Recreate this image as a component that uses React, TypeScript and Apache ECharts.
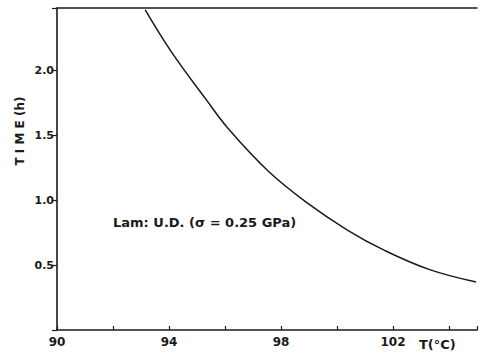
import React, { useEffect, useRef } from "react";
import * as echarts from "echarts";

const temperatures = [93.15, 94.11, 95.31, 96.12, 97.54, 98.96, 100.37, 101.68, 103.31, 104.97];
const times = [2.465, 2.134, 1.78, 1.55, 1.225, 0.975, 0.77, 0.615, 0.465, 0.37];
const xLabelsShown = [90, 94, 98, 102];
const yLabelsShown = [0.5, 1.0, 1.5, 2.0];
const annotation = "Lam: U.D. (σ = 0.25 GPa)";
const yTitle = "T I M E (h)";
const xTitle = "T(°C)";

export default function App() {
  const ref = useRef<HTMLDivElement>(null);
  useEffect(() => {
    if (!ref.current) return;
    const chart = echarts.init(ref.current, null, { renderer: "svg" });
    const font = "DejaVu Sans";
    const ink = "#1a1a1a";
    chart.setOption({
      animation: false,
      backgroundColor: "#ffffff",
      grid: { left: 57, right: 0, top: 8, bottom: 27 },
      xAxis: [
        {
          type: "value",
          min: 90,
          max: 105,
          interval: 2,
          axisLine: { lineStyle: { color: ink, width: 1.6 } },
          axisTick: { inside: true, length: 4, lineStyle: { color: ink, width: 1.2 } },
          splitLine: { show: false },
          axisLabel: {
            color: ink,
            fontFamily: font,
            fontWeight: "bold",
            fontSize: 12,
            margin: 6,
            formatter: (v: number) => (xLabelsShown.includes(v) ? String(v) : ""),
          },
        },
        {
          type: "value",
          position: "top",
          min: 90,
          max: 105,
          axisLine: { show: true, onZero: false, lineStyle: { color: ink, width: 1.6 } },
          axisTick: { show: false },
          axisLabel: { show: false },
          splitLine: { show: false },
        },
      ],
      yAxis: {
        type: "value",
        min: 0,
        max: 2.48,
        interval: 0.5,
        axisLine: { show: true, lineStyle: { color: ink, width: 1.6 } },
        axisTick: { show: true, length: 5, lineStyle: { color: ink, width: 1.2 } },
        splitLine: { show: false },
        axisLabel: {
          color: ink,
          fontFamily: font,
          fontWeight: "bold",
          fontSize: 11,
          margin: 3,
          formatter: (v: number) => (yLabelsShown.some((y) => Math.abs(y - v) < 1e-6) ? v.toFixed(1) : ""),
        },
      },
      series: [
        {
          type: "line",
          data: temperatures.map((t, i) => [t, times[i]]),
          smooth: 0.4,
          showSymbol: false,
          lineStyle: { color: ink, width: 1.5 },
        },
      ],
      graphic: [
        {
          type: "text",
          x: 20,
          y: 131,
          rotation: Math.PI / 2,
          style: {
            text: yTitle,
            fill: ink,
            font: `bold 12px "${font}"`,
            align: "center",
            verticalAlign: "middle",
          },
        },
        {
          type: "text",
          x: 419,
          y: 344,
          style: {
            text: xTitle,
            fill: ink,
            font: `bold 13px "${font}"`,
            align: "left",
            verticalAlign: "middle",
          },
        },
        {
          type: "text",
          x: 113,
          y: 222,
          style: {
            text: annotation,
            fill: ink,
            font: `bold 13px "${font}"`,
            align: "left",
            verticalAlign: "middle",
          },
        },
      ],
    });
    return () => chart.dispose();
  }, []);
  return (
    <div
      ref={ref}
      style={{ position: "fixed", left: 0, top: 0, width: 480, height: 357, background: "#fff" }}
    />
  );
}
